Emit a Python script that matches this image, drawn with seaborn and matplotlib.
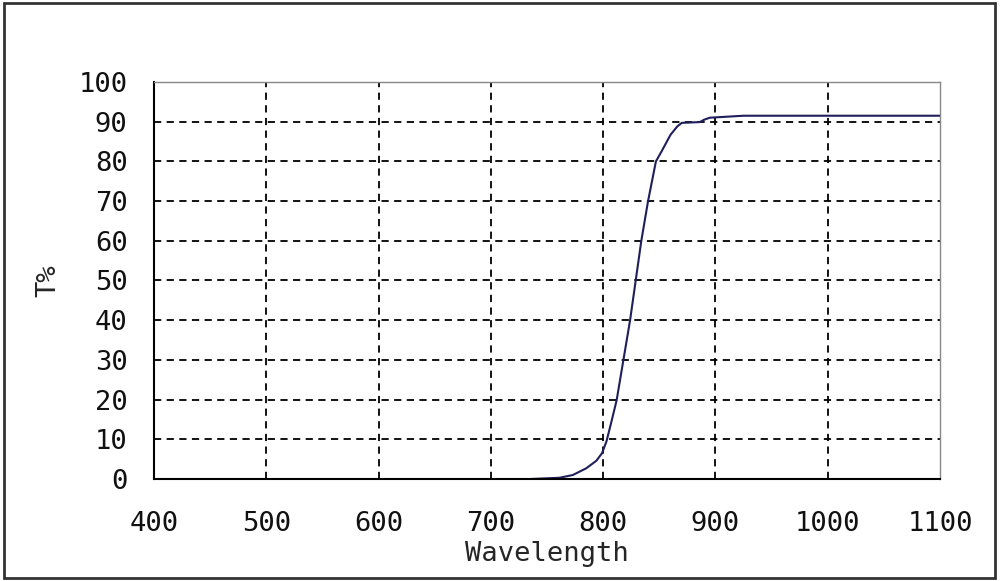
import matplotlib
matplotlib.use("Agg")
import matplotlib.pyplot as plt
import seaborn as sns
import pandas as pd
from matplotlib.patches import Rectangle

# transmission curve
wavelength = [736, 761, 773, 785, 794, 799, 803, 807, 812, 818, 824, 829, 834, 840, 847,
              852, 860, 866, 870, 886, 890, 895, 925, 1100]
transmission = [0.0, 0.3, 1.0, 2.7, 4.6, 6.5, 9.5, 14.0, 19.8, 29.9, 40.0, 50.0, 60.0, 70.0, 80.0,
                82.5, 86.7, 88.8, 89.7, 89.9, 90.5, 91.0, 91.5, 91.5]

x_ticks = [400, 500, 600, 700, 800, 900, 1000, 1100]
y_ticks = [0, 10, 20, 30, 40, 50, 60, 70, 80, 90, 100]

df = pd.DataFrame({"Wavelength": wavelength, "T%": transmission})

sns.set_style("white")
plt.rcParams['font.family'] = ['DejaVu Sans Mono', 'DejaVu Sans']

fig = plt.figure(figsize=(10, 5.81), dpi=100)
ax = fig.add_axes([0.154, 0.1756, 0.786, 0.6833])

sns.lineplot(data=df, x="Wavelength", y="T%", ax=ax, color="#1f1f5c", linewidth=1.5)

ax.set_xlim(400, 1100)
ax.set_ylim(0, 100)
ax.set_xticks(x_ticks)
ax.set_yticks(y_ticks)
ax.tick_params(axis='both', length=0, labelsize=19.5, colors="#111111")
ax.tick_params(axis='x', pad=23)
ax.tick_params(axis='y', pad=19)

for v in x_ticks[1:-1]:
    ax.axvline(v, color="black", linestyle=(0, (4, 3)), linewidth=1.3, zorder=0)
for v in y_ticks[1:-1]:
    ax.axhline(v, color="black", linestyle=(0, (4, 3)), linewidth=1.3, zorder=0)

ax.spines['left'].set_color("black")
ax.spines['bottom'].set_color("black")
ax.spines['left'].set_linewidth(1.5)
ax.spines['bottom'].set_linewidth(1.5)
ax.spines['top'].set_color("#888888")
ax.spines['right'].set_color("#888888")
ax.spines['top'].set_linewidth(1.0)
ax.spines['right'].set_linewidth(1.0)

ax.set_xlabel("Wavelength", fontsize=19.5, labelpad=3)
ax.set_ylabel("T%", fontsize=19.5, labelpad=12)

# outer frame round the whole picture
fig.patches.append(Rectangle((0.004, 0.006), 0.991, 0.988, transform=fig.transFigure,
                             fill=False, edgecolor="#333333", linewidth=2))

fig.savefig("out.png", dpi=100)
